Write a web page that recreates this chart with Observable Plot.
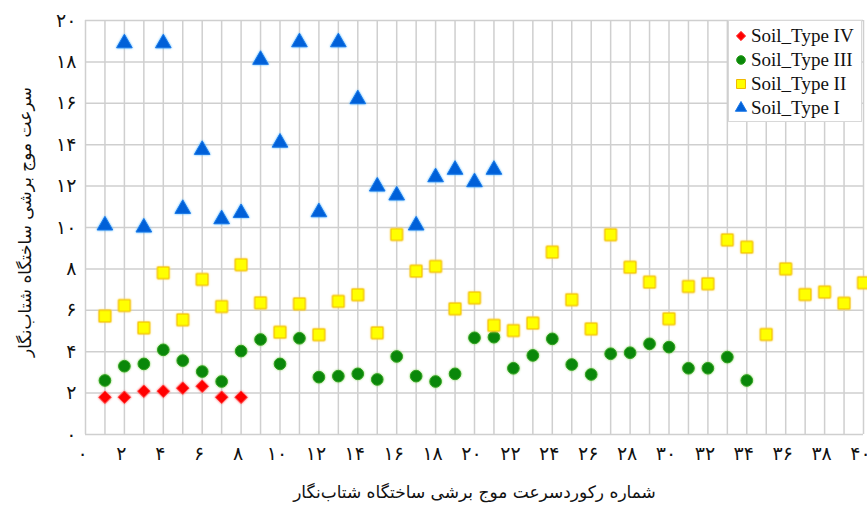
<!DOCTYPE html>
<html><head><meta charset="utf-8">
<script src="https://cdn.jsdelivr.net/npm/d3@7"></script>
<script src="https://cdn.jsdelivr.net/npm/@observablehq/plot@0.6"></script>
<style>
body{margin:0;background:#fff;}
#wrap{position:relative;width:867px;height:512px;overflow:hidden;}
#legend{position:absolute;left:728px;top:20px;width:134px;height:102px;background:#fff;border:1px solid #d8d8d8;box-sizing:border-box;font-family:"Liberation Serif",serif;font-size:19px;color:#111;}
#legend .row{position:absolute;left:0;height:24px;line-height:24px;white-space:nowrap;}
#legend svg{position:absolute;left:5px;top:5px;}
#legend span{position:absolute;left:22px;top:0;}
#ytitle{position:absolute;left:25px;top:222px;transform:translate(-50%,-50%) rotate(-90deg);white-space:nowrap;font-family:"DejaVu Sans",sans-serif;font-size:17px;color:#111;direction:rtl;}
</style>
</head><body>
<div id="wrap"><div id="chart"></div><div id="ytitle"></div><div id="legend"></div></div>
<script>
// Record numbers (x) for each series
const typeIV_x  = [1,2,3,4,5,6,7,8];
const typeIV_y  = [1.8,1.8,2.09,2.09,2.24,2.33,1.8,1.8];

const typeIII_x = d3.range(1, 35);
const typeIII_y = [2.61,3.3,3.41,4.09,3.57,3.04,2.56,4.03,4.59,3.41,4.65,2.77,2.82,2.93,2.66,3.77,2.82,2.56,2.93,4.67,4.7,3.2,3.82,4.62,3.38,2.9,3.9,3.95,4.38,4.22,3.2,3.2,3.74,2.61];

const typeII_x  = d3.range(1, 41);
const typeII_y  = [5.72,6.23,5.15,7.81,5.54,7.49,6.18,8.2,6.36,4.94,6.31,4.82,6.43,6.75,4.91,9.66,7.89,8.12,6.07,6.6,5.27,5.02,5.38,8.81,6.51,5.1,9.65,8.08,7.36,5.59,7.15,7.28,9.4,9.05,4.83,8.0,6.76,6.88,6.34,7.33];

const typeI_x   = d3.range(1, 22);
const typeI_y   = [10.1,18.9,10.0,18.9,10.9,13.75,10.4,10.7,18.1,14.1,18.95,10.74,18.95,16.2,11.98,11.55,10.1,12.43,12.79,12.19,12.79];

const seriesNames = ["Soil_Type IV","Soil_Type III","Soil_Type II","Soil_Type I"];

const xTicks = [0,2,4,6,8,10,12,14,16,18,20,22,24,26,28,30,32,34,36,38,40];
const yTicks = [0,2,4,6,8,10,12,14,16,18,20];
const xTitle = "شماره رکوردسرعت موج برشی ساختگاه شتاب‌نگار";
const yTitle = "سرعت موج برشی ساختگاه شتاب‌نگار";

const fa = n => String(n).replace(/[0-9]/g, d => "۰۱۲۳۴۵۶۷۸۹"[d]);
const pts = (xs, ys) => xs.map((x, i) => ({x, y: ys[i]}));

const styles = [
  {symbol:"diamond2", r:5.6, fill:"#ff0000", stroke:"#ff4040", glow:"#ff6060"},
  {symbol:"circle",   r:5.8, fill:"#0a870a", stroke:"#2f9f1f", glow:"#8fd86a"},
  {symbol:"square",   r:6.6, fill:"#ffff00", stroke:"#f0b800", glow:"#ffe070"},
  {symbol:"triangle", r:5.8, fill:"#0060d8", stroke:"#1a78e8", glow:"#50b8ff"}
];
const data = [pts(typeIV_x,typeIV_y), pts(typeIII_x,typeIII_y), pts(typeII_x,typeII_y), pts(typeI_x,typeI_y)];

const chart = Plot.plot({
  width: 867, height: 512,
  marginLeft: 85, marginRight: 4, marginTop: 20, marginBottom: 78,
  style: {fontFamily: "DejaVu Sans", background: "#fff"},
  x: {domain: [0, 40], label: null},
  y: {domain: [0, 20], label: null},
  marks: [
    Plot.gridX(d3.range(0, 41), {stroke: "#cfcfcf", strokeOpacity: 1, strokeWidth: 1.5}),
    Plot.gridY(yTicks, {stroke: "#cfcfcf", strokeOpacity: 1, strokeWidth: 1.5}),
    Plot.axisX(xTicks, {tickSize: 0, tickPadding: 12, tickFormat: fa, fontSize: 19, fill: "#111", dx: -3}),
    Plot.axisY(yTicks, {tickSize: 0, tickPadding: 9, tickFormat: fa, fontSize: 19, fill: "#111"}),
    ...data.map((d, i) => Plot.dot(d, {x: "x", y: "y", symbol: () => styles[i].symbol, r: styles[i].r,
      fill: styles[i].fill, stroke: styles[i].stroke, strokeWidth: 1, title: () => seriesNames[i]})),
    Plot.text([xTitle], {frameAnchor: "bottom", dy: 63, fontSize: 17, fill: "#111", fontFamily: "DejaVu Sans"})
  ]
});
document.getElementById("chart").appendChild(chart);

// soft glow on markers, as in the reference
d3.select(chart).selectAll('g[aria-label="dot"]').each(function(_, i) {
  this.style.filter = `drop-shadow(0 0 1.2px ${styles[i].glow})`;
});

document.getElementById("ytitle").textContent = yTitle;

// legend
const leg = document.getElementById("legend");
const symPaths = {
  "diamond2": d3.symbol(d3.symbolDiamond2, 55)(),
  "circle": d3.symbol(d3.symbolCircle, 60)(),
  "square": d3.symbol(d3.symbolSquare, 80)(),
  "triangle": d3.symbol(d3.symbolTriangle, 55)()
};
seriesNames.forEach((name, i) => {
  const row = document.createElement("div");
  row.className = "row";
  row.style.top = (3 + i * 24) + "px";
  const s = styles[i];
  row.innerHTML = `<svg width="14" height="14" viewBox="-7 -7 14 14"><path d="${symPaths[s.symbol]}" fill="${s.fill}" stroke="${s.stroke}" stroke-width="1"/></svg><span>${name}</span>`;
  leg.appendChild(row);
});
</script>
</body></html>
